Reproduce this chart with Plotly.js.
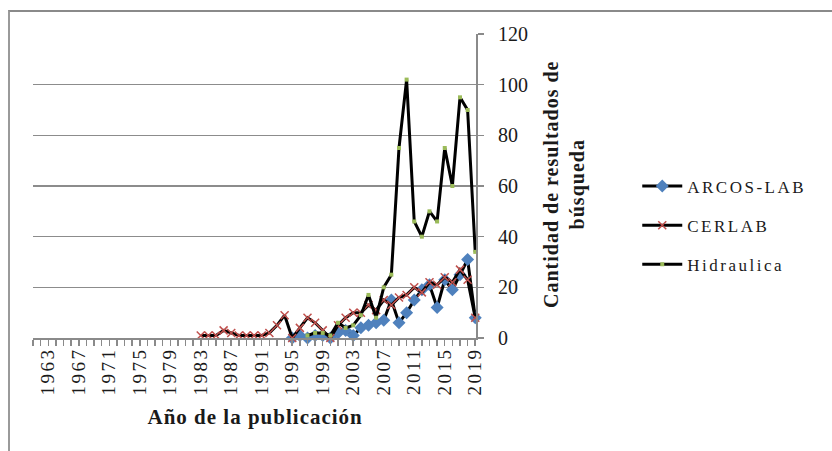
<!DOCTYPE html>
<html>
<head>
<meta charset="utf-8">
<script src="https://cdn.plot.ly/plotly-3.0.1.min.js"></script>
<style>
  html, body { margin: 0; padding: 0; background: #fff; }
  #wrap { position: relative; width: 832px; height: 451px; overflow: hidden; }
  #frame { position: absolute; left: 8px; top: 10px; width: 830px; height: 450px;
           border-top: 2px solid #8a8a8a; border-left: 2px solid #9a9a9a; pointer-events: none; }
  #chart { position: absolute; left: 0; top: 0; width: 832px; height: 451px; }
  #chart .legendtext { letter-spacing: 2.5px; }
  #chart .legend .scrollbox { clip-path: none !important; }
  #chart g.annotation[data-index="0"] .annotation-text,
  #chart g.annotation[data-index="1"] .annotation-text { letter-spacing: 1px; }
  #chart .xtick text { letter-spacing: 2.5px; }
</style>
</head>
<body>
<div id="wrap">
  <div id="chart"></div>
  <div id="frame"></div>
</div>
<script>
// ---- data ----
const tickYears = [1963, 1967, 1971, 1975, 1979, 1983, 1987, 1991, 1995, 1999, 2003, 2007, 2011, 2015, 2019];

const cerlabYears = [1983,1984,1985,1986,1987,1988,1989,1990,1991,1992,1993,1994,1995,1996,1997,1998,1999,2000,2001,2002,2003,2004,2005,2006,2007,2008,2009,2010,2011,2012,2013,2014,2015,2016,2017,2018,2019];
const cerlabValues = [1,1,1,3,2,1,1,1,1,2,5,9,0,4,8,6,3,0,5,8,10,10,13,11,15,13,16,17,20,18,22,21,24,22,27,23,8];

const arcosYears = [1995,1996,1997,1998,1999,2000,2001,2002,2003,2004,2005,2006,2007,2008,2009,2010,2011,2012,2013,2014,2015,2016,2017,2018,2019];
const arcosValues = [0,1,0,1,1,0,2,3,1,4,5,6,7,15,6,10,15,19,21,12,23,19,25,31,8];

const hidraYears = [1997,1998,1999,2000,2001,2002,2003,2004,2005,2006,2007,2008,2009,2010,2011,2012,2013,2014,2015,2016,2017,2018,2019];
const hidraValues = [1,2,2,1,6,4,5,9,17,8,20,25,75,102,46,40,50,46,75,60,95,90,34];

const seriesNames = ['ARCOS-LAB', 'CERLAB', 'Hidraulica'];
const yTicks = [0, 20, 40, 60, 80, 100, 120];

const serif = 'Liberation Serif, Times New Roman, serif';
const axisGray = '#8a8a8a';

const traces = [
  {
    x: arcosYears, y: arcosValues, name: seriesNames[0], type: 'scatter', mode: 'lines+markers',
    line: {color: '#000000', width: 3},
    marker: {symbol: 'diamond', size: 10, color: '#4F81BD', line: {width: 0}},
    cliponaxis: false, legendgroup: 'a'
  },
  {
    x: cerlabYears, y: cerlabValues, name: seriesNames[1], type: 'scatter', mode: 'lines+markers',
    line: {color: '#000000', width: 3},
    marker: {symbol: 'x-thin-open', size: 8, color: '#C0504D', line: {color: '#C0504D', width: 1.5}},
    cliponaxis: false, legendgroup: 'b'
  },
  {
    x: hidraYears, y: hidraValues, name: seriesNames[2], type: 'scatter', mode: 'lines+markers',
    line: {color: '#000000', width: 3},
    marker: {symbol: 'square', size: 4, color: '#9BBB59', line: {width: 0}},
    cliponaxis: false, legendgroup: 'c'
  }
];

// value labels of the right axis, placed on the y scale a little further out than Plotly's default
const yTickLabels = yTicks.map(v => ({
  text: String(v), xref: 'paper', yref: 'y', x: 1.045, y: v,
  xanchor: 'left', yanchor: 'middle', showarrow: false,
  font: {family: serif, size: 20, color: '#1a1a1a'}
}));

const layout = {
  width: 832, height: 451,
  margin: {l: 33, r: 356, t: 34, b: 113},
  paper_bgcolor: 'rgba(0,0,0,0)', plot_bgcolor: 'rgba(0,0,0,0)',
  font: {family: serif, size: 15, color: '#1a1a1a'},
  showlegend: true,
  legend: {
    x: 1.364, xanchor: 'left', y: 0.37, yanchor: 'middle',
    font: {family: serif, size: 17, color: '#1a1a1a'},
    tracegroupgap: 14, itemwidth: 40, bgcolor: 'rgba(0,0,0,0)'
  },
  xaxis: {
    type: 'linear', range: [1961.0, 2019.1], fixedrange: true,
    tickmode: 'array', tickvals: tickYears, ticktext: tickYears.map(String),
    tickangle: -90, ticks: '', showgrid: false, zeroline: false,
    showline: true, linecolor: axisGray, linewidth: 2,
    tickfont: {family: serif, size: 19, color: '#1a1a1a'},
    minor: {tick0: 1961, dtick: 1, ticks: 'outside', ticklen: 6, tickcolor: axisGray, tickwidth: 1.5, showgrid: false}
  },
  yaxis: {
    range: [0, 120], side: 'right', fixedrange: true,
    tickmode: 'array', tickvals: yTicks, showticklabels: false,
    showgrid: true, gridcolor: '#8c8c8c', gridwidth: 1.5, zeroline: false,
    showline: true, linecolor: axisGray, linewidth: 2,
    ticks: 'outside', ticklen: 6, tickcolor: axisGray, tickwidth: 1.5
  },
  annotations: [
    {
      text: '<b>Cantidad de resultados de<br>búsqueda</b>',
      xref: 'paper', yref: 'paper', x: 1.2, y: 0.507, xanchor: 'center', yanchor: 'middle',
      textangle: -90, showarrow: false,
      font: {family: serif, size: 20, color: '#1a1a1a'}
    },
    {
      text: '<b>Año de la publicación</b>',
      xref: 'paper', yref: 'paper', x: 0.503, y: -0.26, xanchor: 'center', yanchor: 'middle',
      showarrow: false,
      font: {family: serif, size: 21, color: '#1a1a1a'}
    }
  ].concat(yTickLabels)
};

Plotly.newPlot('chart', traces, layout, {displayModeBar: false, staticPlot: true});
</script>
</body>
</html>
